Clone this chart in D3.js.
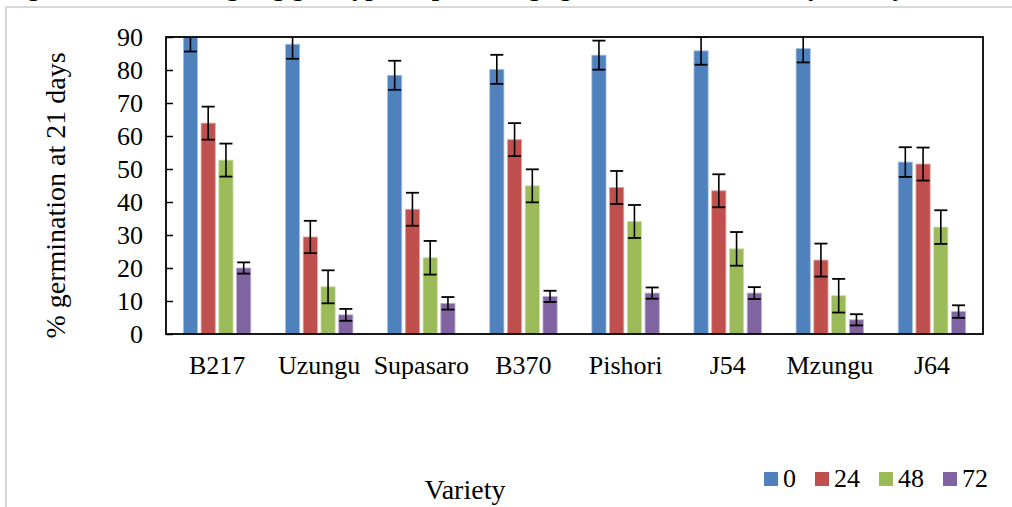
<!DOCTYPE html>
<html>
<head>
<meta charset="utf-8">
<script src="https://cdn.jsdelivr.net/npm/d3@7"></script>
<style>
  html, body { margin: 0; padding: 0; background: #fff; }
  svg { display: block; }
  text { font-family: "Liberation Serif", "Times New Roman", serif; fill: #000; }
</style>
</head>
<body>
<div id="chart"></div>
<script>
const varieties = ["B217", "Uzungu", "Supasaro", "B370", "Pishori", "J54", "Mzungu", "J64"];
const hours = ["0", "24", "48", "72"];
// mean % germination per variety, one array per ageing period
const h0 = [90.6, 87.8, 78.4, 80.2, 84.5, 85.8, 86.5, 52.1];
const h24 = [63.9, 29.4, 37.8, 58.9, 44.4, 43.4, 22.4, 51.5];
const h48 = [52.7, 14.3, 23.1, 44.9, 34.1, 25.8, 11.6, 32.4];
const h72 = [20.0, 5.8, 9.3, 11.4, 12.4, 12.4, 4.3, 6.8];
// error bar half-lengths
const e0 = [5.0, 4.4, 4.4, 4.4, 4.4, 4.2, 4.2, 4.5];
const e24 = [5.0, 4.9, 5.0, 5.0, 5.0, 5.0, 5.0, 5.0];
const e48 = [5.0, 5.0, 5.1, 5.0, 5.0, 5.1, 5.1, 5.1];
const e72 = [1.7, 1.8, 1.9, 1.7, 1.7, 1.8, 1.7, 1.9];
const yTicks = [0, 10, 20, 30, 40, 50, 60, 70, 80, 90];

const colors = ["#4F81BD", "#C0504D", "#9BBB59", "#8064A2"];
const edges = ["#A7C0DE", "#DFA7A6", "#CDDDAC", "#BFB1D0"];

const means = [h0, h24, h48, h72];
const errs = [e0, e24, e48, e72];

const width = 1012, height = 507;
const plot = { left: 166, right: 983, top: 37, bottom: 334 };

const svg = d3.select("#chart").append("svg")
  .attr("width", width)
  .attr("height", height);

// light grey page frame
svg.append("path")
  .attr("d", `M6,${height} L6,7 L${width},7`)
  .attr("fill", "none")
  .attr("stroke", "#d9d9d9")
  .attr("stroke-width", 2);

// caption, cut off at the top edge like in the source page
svg.append("text")
  .attr("x", 4)
  .attr("y", -4)
  .style("font-size", "26px")
  .style("font-weight", "bold")
  .text("Figure 4: Effect of ageing genotype on percentage germination of seeds by variety");

const x0 = d3.scaleBand()
  .domain(varieties)
  .range([plot.left, plot.right])
  .paddingInner(0.27)
  .paddingOuter(0.135);

const x1 = d3.scaleBand()
  .domain(hours)
  .range([0, x0.bandwidth()])
  .padding(0.2);

const y = d3.scaleLinear()
  .domain([0, 90])
  .range([plot.bottom, plot.top]);

svg.append("defs").append("clipPath")
  .attr("id", "plotclip")
  .append("rect")
  .attr("x", plot.left)
  .attr("y", plot.top)
  .attr("width", plot.right - plot.left)
  .attr("height", plot.bottom - plot.top);

const rows = [];
varieties.forEach((v, i) => {
  hours.forEach((h, j) => {
    rows.push({ variety: v, hour: h, s: j, value: means[j][i], err: errs[j][i] });
  });
});

const g = svg.append("g").attr("clip-path", "url(#plotclip)");

g.selectAll("rect.bar")
  .data(rows)
  .enter()
  .append("rect")
  .attr("class", "bar")
  .attr("x", d => x0(d.variety) + x1(d.hour))
  .attr("y", d => y(d.value))
  .attr("width", x1.bandwidth())
  .attr("height", d => y(0) - y(d.value))
  .attr("fill", d => colors[d.s])
  .attr("stroke", d => edges[d.s])
  .attr("stroke-width", 0.8);

const capHalf = 6.5;
const eb = g.selectAll("g.err")
  .data(rows)
  .enter()
  .append("g")
  .attr("class", "err")
  .attr("transform", d => `translate(${x0(d.variety) + x1(d.hour) + x1.bandwidth() / 2},0)`);

eb.append("line")
  .attr("y1", d => y(d.value + d.err))
  .attr("y2", d => y(d.value - d.err))
  .attr("stroke", "#000")
  .attr("stroke-width", 1.6);
eb.append("line")
  .attr("x1", -capHalf).attr("x2", capHalf)
  .attr("y1", d => y(d.value + d.err))
  .attr("y2", d => y(d.value + d.err))
  .attr("stroke", "#000")
  .attr("stroke-width", 1.8);
eb.append("line")
  .attr("x1", -capHalf).attr("x2", capHalf)
  .attr("y1", d => y(d.value - d.err))
  .attr("y2", d => y(d.value - d.err))
  .attr("stroke", "#000")
  .attr("stroke-width", 1.8);

// y axis with inward ticks
const yAxis = svg.append("g")
  .attr("transform", `translate(${plot.left},0)`)
  .call(d3.axisLeft(y).tickValues(yTicks).tickSize(-7).tickPadding(23));
yAxis.select(".domain").remove();
yAxis.selectAll(".tick line").attr("stroke", "#000").attr("stroke-width", 1.5);
yAxis.selectAll(".tick text")
  .style("font-size", "26px")
  .style("font-family", "'Liberation Serif', 'Times New Roman', serif")
  .attr("fill", "#000");

// x axis labels
const xAxis = svg.append("g")
  .attr("transform", `translate(0,${plot.bottom})`)
  .call(d3.axisBottom(x0).tickSize(0).tickPadding(22));
xAxis.select(".domain").remove();
xAxis.selectAll(".tick text")
  .style("font-size", "26px")
  .style("font-family", "'Liberation Serif', 'Times New Roman', serif")
  .attr("fill", "#000");

// plot frame
svg.append("rect")
  .attr("x", plot.left)
  .attr("y", plot.top)
  .attr("width", plot.right - plot.left)
  .attr("height", plot.bottom - plot.top)
  .attr("fill", "none")
  .attr("stroke", "#000")
  .attr("stroke-width", 1.8);

// axis titles
svg.append("text")
  .attr("transform", `translate(65,${(plot.top + plot.bottom) / 2 + 10}) rotate(-90)`)
  .attr("text-anchor", "middle")
  .style("font-size", "28px")
  .text("% germination at 21 days");

svg.append("text")
  .attr("x", 465)
  .attr("y", 499)
  .attr("text-anchor", "middle")
  .style("font-size", "28px")
  .text("Variety");

// legend
const legendX = [764, 815, 879, 943];
const legend = svg.append("g");
hours.forEach((h, j) => {
  legend.append("rect")
    .attr("x", legendX[j])
    .attr("y", 472)
    .attr("width", 14)
    .attr("height", 14)
    .attr("fill", colors[j]);
  legend.append("text")
    .attr("x", legendX[j] + 19)
    .attr("y", 487)
    .style("font-size", "26px")
    .text(h);
});
</script>
</body>
</html>
